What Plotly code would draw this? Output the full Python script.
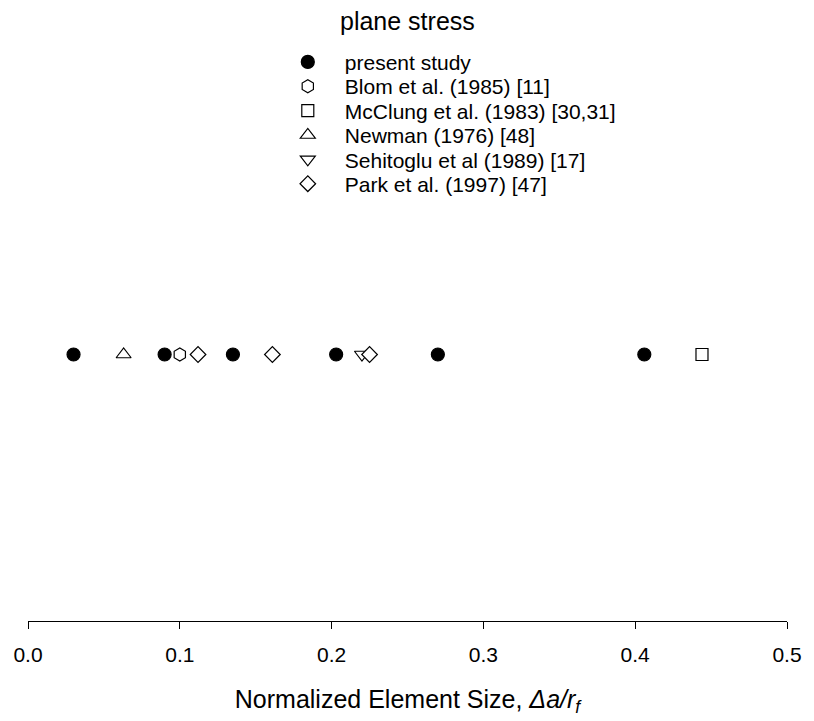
import plotly.graph_objects as go

# Normalized element size values (Δa/r_f)
present_study = [0.030, 0.090, 0.135, 0.203, 0.270, 0.406]
blom = [0.100]
mcclung = [0.444]
newman = [0.063]
sehitoglu = [0.220]
park = [0.112, 0.161, 0.225]

series_names = [
    "present study",
    "Blom et al. (1985) [11]",
    "McClung et al. (1983) [30,31]",
    "Newman (1976) [48]",
    "Sehitoglu et al (1989) [17]",
    "Park et al. (1997) [47]",
]
series_values = [present_study, blom, mcclung, newman, sehitoglu, park]
symbols = ["circle", "hexagon", "square", "triangle-up", "triangle-down", "diamond"]
sizes = [13, 13, 12, 13, 13, 12]
fills = ["black", "white", "white", "white", "white", "white"]

tick_vals = [0.0, 0.1, 0.2, 0.3, 0.4, 0.5]
tick_text = ["0.0", "0.1", "0.2", "0.3", "0.4", "0.5"]

FONT = "Liberation Sans, Arial, sans-serif"

# plot area in pixels
PL, PR, PT, PB = 28, 797, 88, 626


def px_x(p):
    return (p - PL) / (PR - PL)


def px_y(p):
    return (PB - p) / (PB - PT)


fig = go.Figure()
legend_keys = []
for i, (name, vals) in enumerate(zip(series_names, series_values)):
    key = "legend" if i == 0 else f"legend{i + 1}"
    legend_keys.append(key)
    fig.add_trace(go.Scatter(
        x=vals,
        y=[0] * len(vals),
        mode="markers",
        name=name,
        legend=key,
        marker=dict(symbol=symbols[i], size=sizes[i], color=fills[i],
                    line=dict(color="black", width=1.2)),
    ))

legend_layout = {}
for i, key in enumerate(legend_keys):
    legend_layout[key] = dict(
        x=px_x(274),
        y=px_y(62 + 24.6 * i),
        xanchor="left",
        yanchor="middle",
        font=dict(size=21, family=FONT, color="black"),
        itemwidth=64,
        bgcolor="rgba(0,0,0,0)",
    )

fig.update_layout(
    width=814,
    height=721,
    margin=dict(l=PL, r=814 - PR, t=PT, b=721 - PB),
    plot_bgcolor="white",
    paper_bgcolor="white",
    font=dict(family=FONT, color="black"),
    showlegend=True,
    xaxis=dict(
        range=[0, 0.5],
        tickvals=tick_vals,
        ticktext=tick_text,
        showline=True,
        linecolor="black",
        linewidth=1,
        ticks="outside",
        ticklen=7,
        tickwidth=1,
        tickcolor="black",
        ticklabelstandoff=8,
        showgrid=False,
        zeroline=False,
        tickfont=dict(size=21, family=FONT, color="black"),
        title=dict(text="Normalized Element Size, <i>Δa/r<sub>f</sub></i>",
                   font=dict(size=25, family=FONT, color="black"),
                   standoff=25),
    ),
    yaxis=dict(range=[-1, 1], visible=False, fixedrange=True),
    annotations=[dict(
        text="plane stress",
        x=px_x(412),
        y=px_y(20),
        xref="paper",
        yref="paper",
        xanchor="center",
        yanchor="middle",
        showarrow=False,
        font=dict(size=25, family=FONT, color="black"),
    )],
    **legend_layout,
)

fig.write_html("out.html")
